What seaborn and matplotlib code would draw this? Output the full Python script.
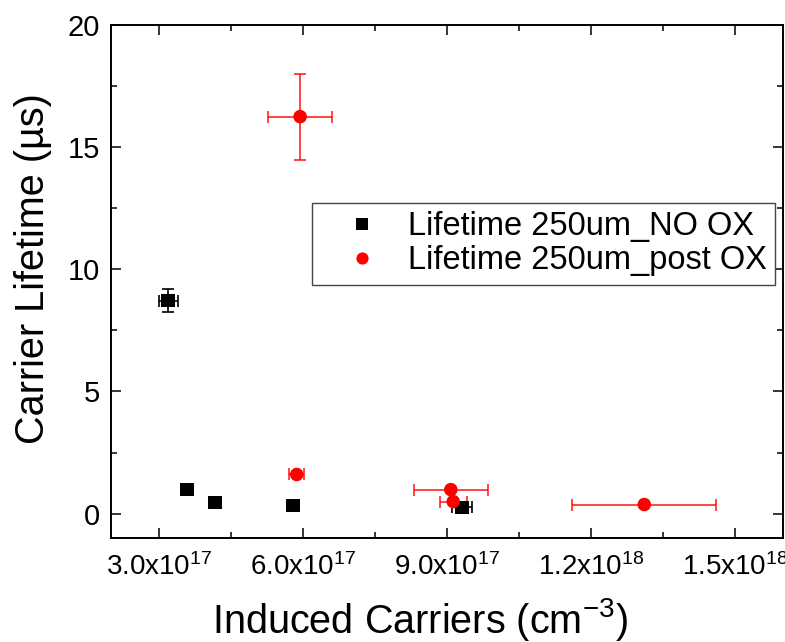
import numpy as np
import pandas as pd
import matplotlib
matplotlib.use("Agg")
import matplotlib.pyplot as plt
import seaborn as sns
from matplotlib.ticker import FuncFormatter, MultipleLocator

# Datos
no_ox_x = [3.19e17, 3.58e17, 4.17e17, 5.79e17, 9.31e17]
no_ox_y = [8.72, 0.98, 0.45, 0.33, 0.25]
no_ox_xerr = [0.20e17, 0.0, 0.0, 0.0, 0.21e17]
no_ox_yerr = [0.47, 0.0, 0.0, 0.0, 0.0]

post_ox_x = [5.94e17, 5.87e17, 9.08e17, 9.13e17, 1.311e18]
post_ox_y = [16.25, 1.60, 0.98, 0.49, 0.37]
post_ox_xerr = [0.66e17, 0.16e17, 0.77e17, 0.28e17, 1.50e17]
post_ox_yerr = [1.76, 0.0, 0.0, 0.0, 0.0]

labels = ["Lifetime 250um_NO OX", "Lifetime 250um_post OX"]

df = pd.DataFrame({
    "x": no_ox_x + post_ox_x,
    "y": no_ox_y + post_ox_y,
    "serie": [labels[0]] * len(no_ox_x) + [labels[1]] * len(post_ox_x),
})

sns.set_theme(style="ticks")
plt.rcParams["font.family"] = ["Liberation Sans", "DejaVu Sans"]
plt.rcParams["mathtext.default"] = "regular"
plt.rcParams["text.color"] = "black"
plt.rcParams["axes.labelcolor"] = "black"

fig = plt.figure(figsize=(7.85, 6.42), dpi=100)
ax = fig.add_axes([0.1414, 0.162, 0.856, 0.799])

# Barras de error
ax.errorbar(no_ox_x, no_ox_y, xerr=no_ox_xerr, yerr=no_ox_yerr, fmt="none",
            ecolor="black", elinewidth=1.2, capsize=4, capthick=1.2, zorder=2)
ax.errorbar(post_ox_x, post_ox_y, xerr=post_ox_xerr, yerr=post_ox_yerr, fmt="none",
            ecolor="red", alpha=0.85, elinewidth=1.2, capsize=4, capthick=1.2, zorder=2)

sns.scatterplot(data=df, x="x", y="y", hue="serie", style="serie",
                palette={labels[0]: "black", labels[1]: "red"},
                markers={labels[0]: "s", labels[1]: "o"},
                s=95, edgecolor="none", linewidth=0, ax=ax, zorder=3)

ax.set_xlim(2e17, 1.6e18)
ax.set_ylim(-1, 20)
ax.xaxis.set_major_locator(MultipleLocator(3e17))
ax.xaxis.set_minor_locator(MultipleLocator(1.5e17))
ax.yaxis.set_major_locator(MultipleLocator(5))
ax.yaxis.set_minor_locator(MultipleLocator(2.5))


def fmt_x(v, pos):
    if v <= 0:
        return ""
    e = int(np.floor(np.log10(v)))
    m = v / 10 ** e
    return f"{m:.1f}x10$^{{{e}}}$"


ax.xaxis.set_major_formatter(FuncFormatter(fmt_x))

for s in ax.spines.values():
    s.set_linewidth(1.4)
    s.set_color("black")
ax.tick_params(which="both", direction="in", top=True, right=True, colors="black")
ax.tick_params(which="major", length=7.5, width=1.1, labelsize=21, pad=8)
ax.tick_params(axis="x", which="major", pad=11, labelsize=20)
ax.tick_params(which="minor", length=4, width=1.1)

ax.set_xlabel("Induced Carriers (cm$^{-3}$)", fontsize=28.5)
ax.set_ylabel("Carrier Lifetime (µs)", fontsize=28.5)
ax.xaxis.set_label_coords(0.46, -0.113)
ax.yaxis.set_label_coords(-0.088, 0.526)

handles, lbls = ax.get_legend_handles_labels()
leg = ax.legend(handles, lbls, loc="upper right", bbox_to_anchor=(0.988, 0.653),
                borderaxespad=0, fontsize=23.5, frameon=True, fancybox=False,
                edgecolor="#444444", framealpha=1, handletextpad=0.1,
                handlelength=2.6, markerscale=0.9, labelspacing=0.1, borderpad=0.25)
leg.get_frame().set_linewidth(1.0)

fig.savefig("out.png", dpi=100)
